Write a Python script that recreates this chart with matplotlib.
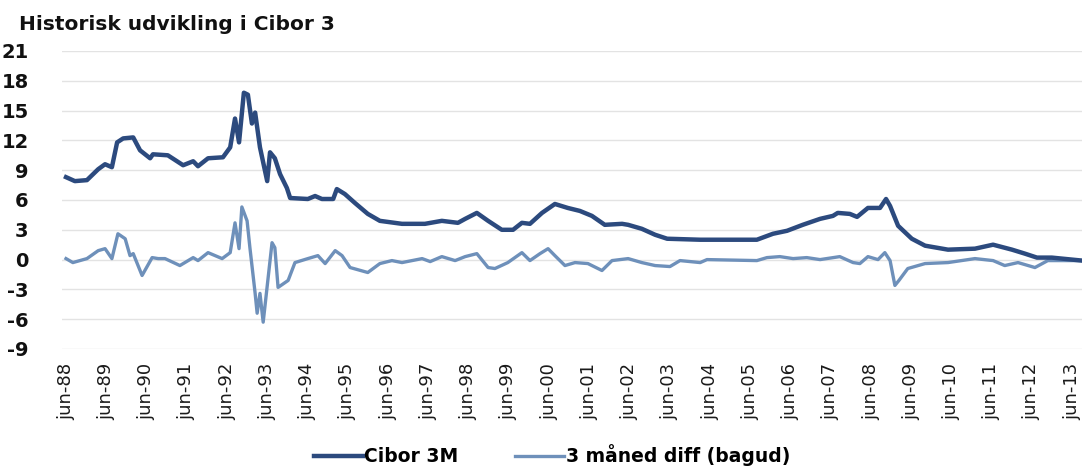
import matplotlib
matplotlib.use("Agg")
import matplotlib.pyplot as plt

# Cibor 3M (decimal year, percent)
cibor_t = [1988.50, 1988.72, 1989.02, 1989.30, 1989.47, 1989.64, 1989.77, 1989.92,
           1990.17, 1990.34, 1990.59, 1990.66, 1991.03, 1991.41, 1991.66, 1991.78,
           1992.03, 1992.40, 1992.58, 1992.70, 1992.80, 1992.92, 1993.02, 1993.12,
           1993.20, 1993.32, 1993.50, 1993.57, 1993.69, 1993.82, 1993.99, 1994.07,
           1994.51, 1994.69, 1994.86, 1995.14, 1995.23, 1995.43, 1995.68, 1996.00,
           1996.30, 1996.85, 1997.42, 1997.84, 1998.24, 1998.42, 1998.71, 1998.99,
           1999.33, 1999.61, 1999.83, 2000.03, 2000.33, 2000.65, 2000.97, 2001.27,
           2001.57, 2001.89, 2002.32, 2002.47, 2002.81, 2003.14, 2003.44, 2004.26,
           2005.67, 2006.07, 2006.42, 2006.81, 2007.24, 2007.56, 2007.68, 2007.98,
           2008.16, 2008.43, 2008.73, 2008.88, 2008.98, 2009.18, 2009.52, 2009.85,
           2010.42, 2011.09, 2011.54, 2012.01, 2012.33, 2012.63, 2013.00, 2013.75]
cibor_v = [8.3, 7.9, 8.0, 9.1, 9.6, 9.3, 11.8, 12.2,
           12.3, 11.0, 10.2, 10.6, 10.5, 9.5, 9.9, 9.4,
           10.2, 10.3, 11.3, 14.2, 11.8, 16.8, 16.6, 13.7,
           14.8, 11.3, 7.9, 10.8, 10.2, 8.6, 7.2, 6.2,
           6.1, 6.4, 6.1, 6.1, 7.1, 6.6, 5.7, 4.6,
           3.9, 3.6, 3.6, 3.9, 3.7, 4.1, 4.7, 3.9,
           3.0, 3.0, 3.7, 3.6, 4.7, 5.6, 5.2, 4.9,
           4.4, 3.5, 3.6, 3.5, 3.1, 2.5, 2.1, 2.0,
           2.0, 2.6, 2.9, 3.5, 4.1, 4.4, 4.7, 4.6,
           4.3, 5.2, 5.2, 6.1, 5.4, 3.4, 2.1, 1.4,
           1.0, 1.1, 1.5, 1.0, 0.6, 0.2, 0.2, -0.1]

# 3 month difference (backwards)
diff_t = [1988.50, 1988.67, 1989.02, 1989.30, 1989.47, 1989.64, 1989.79, 1989.97,
          1990.09, 1990.17, 1990.39, 1990.64, 1990.79, 1990.96, 1991.33, 1991.66,
          1991.78, 1992.03, 1992.38, 1992.58, 1992.70, 1992.80, 1992.87, 1993.00,
          1993.07, 1993.20, 1993.25, 1993.32, 1993.40, 1993.62, 1993.69, 1993.77,
          1994.02, 1994.19, 1994.51, 1994.76, 1994.94, 1995.19, 1995.36, 1995.56,
          1996.00, 1996.30, 1996.60, 1996.85, 1997.35, 1997.55, 1997.84, 1998.17,
          1998.42, 1998.71, 1998.99, 1999.16, 1999.48, 1999.83, 2000.03, 2000.28,
          2000.48, 2000.65, 2000.90, 2001.15, 2001.47, 2001.82, 2002.07, 2002.47,
          2002.81, 2003.14, 2003.51, 2003.76, 2004.26, 2004.43, 2005.67, 2005.92,
          2006.24, 2006.57, 2006.91, 2007.24, 2007.73, 2008.06, 2008.23, 2008.43,
          2008.68, 2008.85, 2008.98, 2009.10, 2009.20, 2009.42, 2009.85, 2010.42,
          2011.09, 2011.54, 2011.83, 2012.16, 2012.58, 2012.90, 2013.75]
diff_v = [0.1, -0.3, 0.1, 0.9, 1.1, 0.1, 2.6, 2.1,
          0.4, 0.6, -1.6, 0.2, 0.1, 0.1, -0.6, 0.2,
          -0.1, 0.7, 0.1, 0.7, 3.7, 1.1, 5.3, 3.9,
          1.2, -3.4, -5.4, -3.4, -6.3, 1.7, 1.2, -2.8,
          -2.1, -0.3, 0.1, 0.4, -0.4, 0.9, 0.4, -0.8,
          -1.3, -0.4, -0.1, -0.3, 0.1, -0.2, 0.3, -0.1,
          0.3, 0.6, -0.8, -0.9, -0.3, 0.7, -0.1, 0.6,
          1.1, 0.4, -0.6, -0.3, -0.4, -1.1, -0.1, 0.1,
          -0.3, -0.6, -0.7, -0.1, -0.3, 0.0, -0.1, 0.2,
          0.3, 0.1, 0.2, 0.0, 0.3, -0.3, -0.4, 0.3,
          0.0, 0.7, -0.1, -2.6, -2.1, -0.9, -0.4, -0.3,
          0.1, -0.1, -0.6, -0.3, -0.8, -0.1, -0.1]

tick_years = list(range(1988, 2014))
tick_labels = ["jun-%02d" % (y % 100) for y in tick_years]
y_ticks = list(range(-9, 22, 3))

dark = "#2C4A7E"
light = "#6E90BA"

fig = plt.figure(figsize=(10.82, 4.67), dpi=100)
ax = fig.add_axes([0.0573, 0.2527, 0.9427, 0.6381])

ax.plot(cibor_t, cibor_v, color=dark, lw=3.2, solid_joinstyle="round", label="Cibor 3M", zorder=3)
ax.plot(diff_t, diff_v, color=light, lw=2.4, solid_joinstyle="round", label="3 måned diff (bagud)", zorder=2)

ax.set_xlim(1988.40, 2013.75)
ax.set_ylim(-9, 21)
ax.set_yticks(y_ticks)
ax.set_yticklabels([str(v) for v in y_ticks], fontsize=14, fontweight="bold", color="#111111")
ax.set_xticks([y + 0.5 for y in tick_years])
ax.set_xticklabels(tick_labels, rotation=90, fontsize=13, color="#1a1a1a")
ax.tick_params(axis="both", length=0)
ax.tick_params(axis="y", pad=24)
ax.tick_params(axis="x", pad=10)
ax.grid(axis="y", color="#E3E3E3", lw=1.0)
ax.set_axisbelow(True)
for s in ax.spines.values():
    s.set_visible(False)

fig.text(0.018, 0.948, "Historisk udvikling i Cibor 3", fontsize=14.5, fontweight="bold",
         color="#111111", va="center", ha="left")

fig.legend(loc="lower center", bbox_to_anchor=(0.51, -0.035), ncol=2, frameon=False,
           prop={"size": 13.5, "weight": "bold"}, handlelength=2.6, columnspacing=3.0,
           handletextpad=0.1)

fig.savefig("out.png", dpi=100)
